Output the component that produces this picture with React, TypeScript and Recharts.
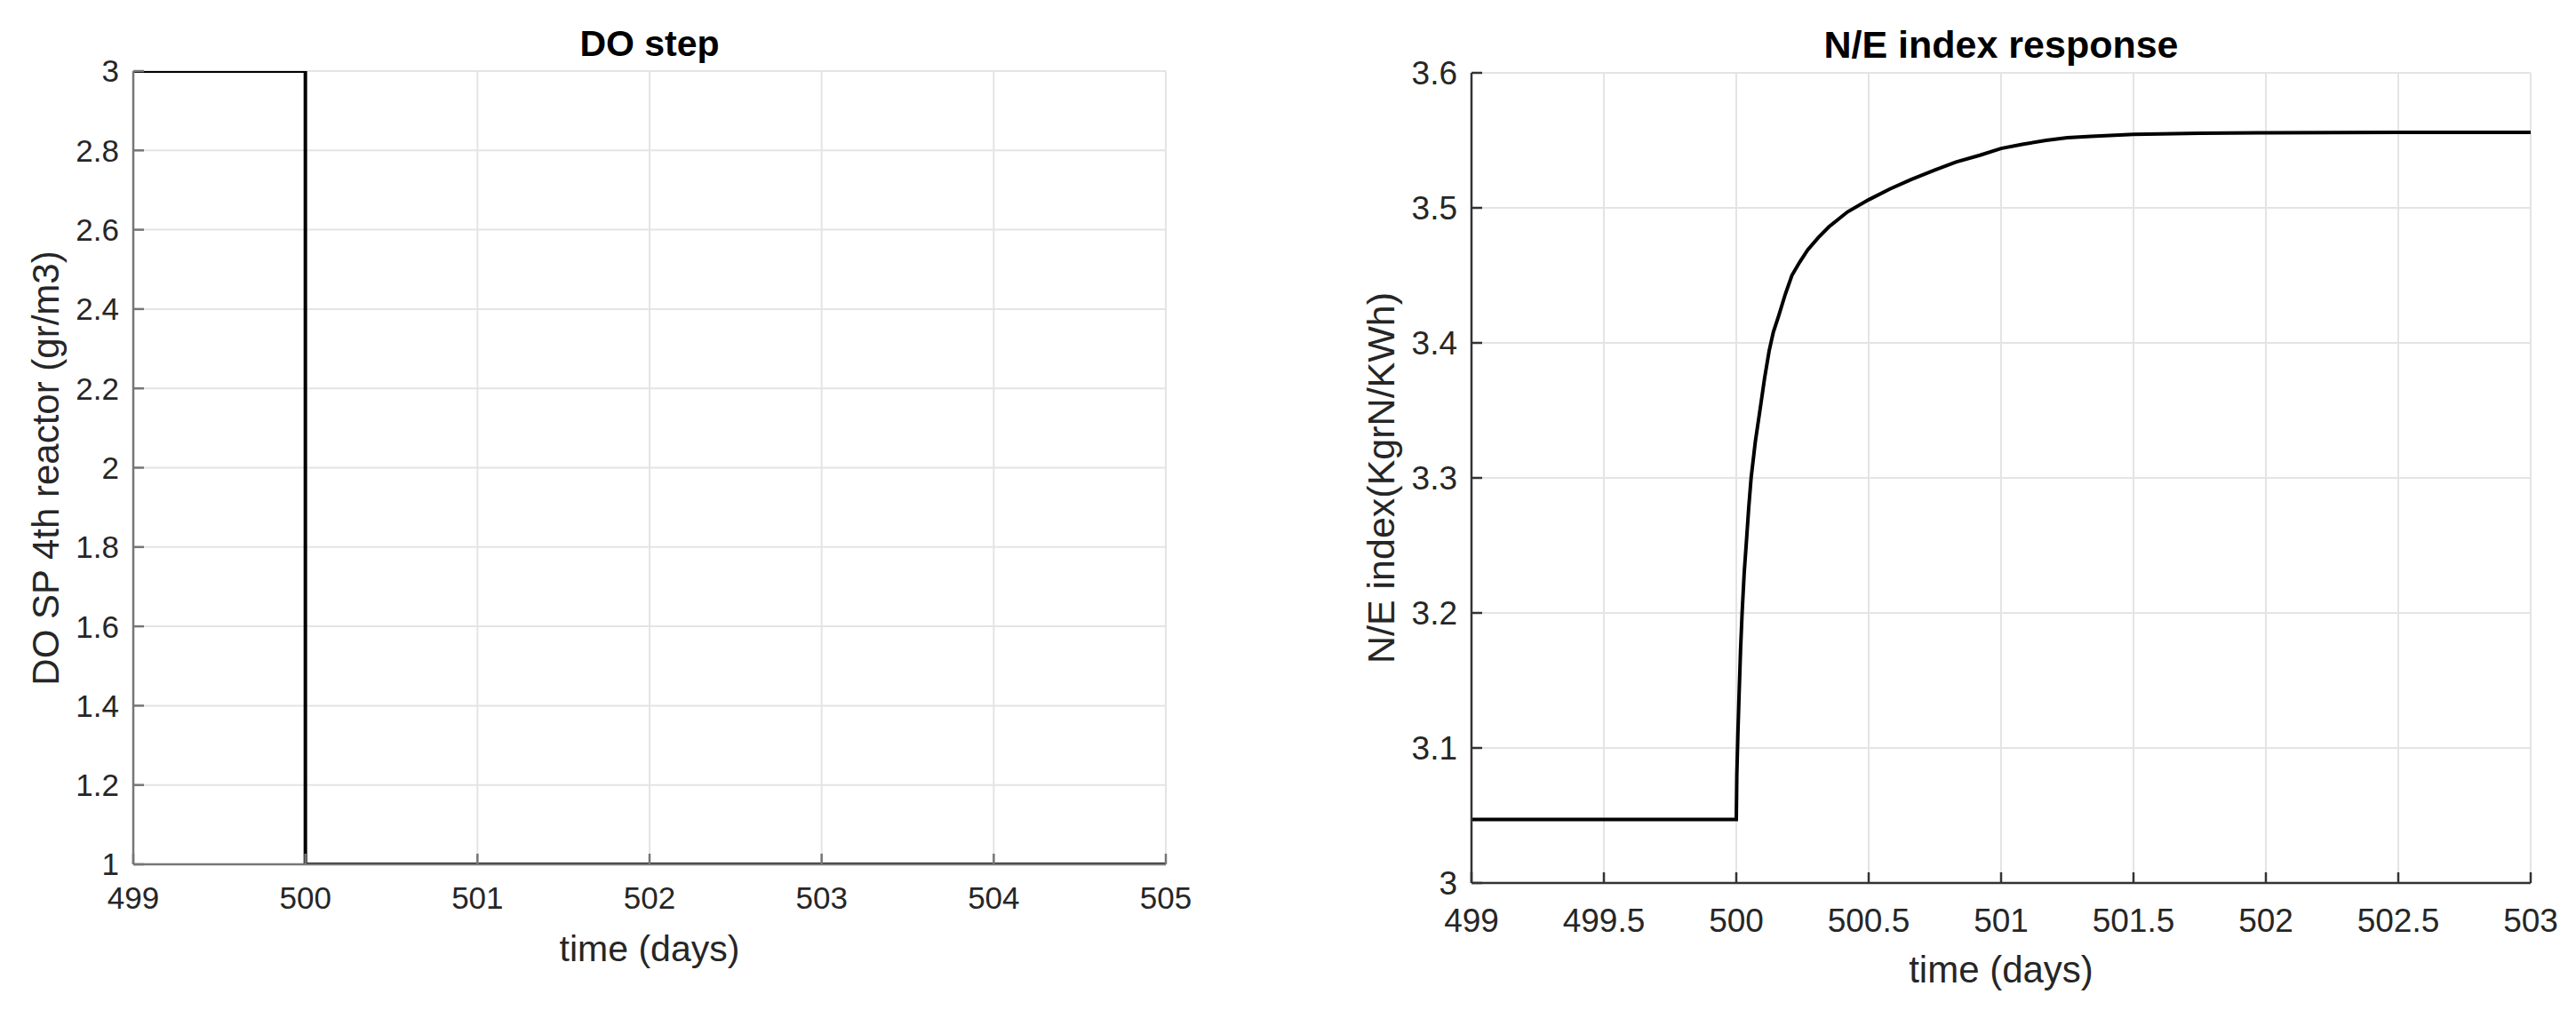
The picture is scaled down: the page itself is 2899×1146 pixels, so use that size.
import React from "react";
import { LineChart, Line, XAxis, YAxis, CartesianGrid } from "recharts";

// DO set point step (left panel)
const doTime = [499, 500, 500, 505];
const doSetPoint = [3, 3, 1, 1];
const doXTicks = [499, 500, 501, 502, 503, 504, 505];
const doYTicks = [1, 1.2, 1.4, 1.6, 1.8, 2, 2.2, 2.4, 2.6, 2.8, 3];

// N/E index response (right panel)
const neTime = [
  499, 500, 500.002, 500.006, 500.011, 500.016, 500.022, 500.03, 500.039, 500.047,
  500.056, 500.072, 500.09, 500.107, 500.124, 500.14, 500.16, 500.185, 500.21, 500.24,
  500.27, 500.31, 500.35, 500.42, 500.5, 500.58, 500.66, 500.75, 500.83, 500.92,
  501, 501.08, 501.17, 501.25, 501.34, 501.5, 501.75, 502, 502.5, 503,
];
const neIndex = [
  3.047, 3.047, 3.08, 3.11, 3.142, 3.172, 3.2, 3.23, 3.255, 3.278,
  3.3, 3.327, 3.351, 3.374, 3.394, 3.408, 3.42, 3.436, 3.45, 3.46,
  3.469, 3.478, 3.486, 3.497, 3.506, 3.514, 3.521, 3.528, 3.534, 3.539,
  3.544, 3.547, 3.55, 3.552, 3.553, 3.5545, 3.5552, 3.5556, 3.556, 3.556,
];
const neXTicks = [499, 499.5, 500, 500.5, 501, 501.5, 502, 502.5, 503];
const neYTicks = [3, 3.1, 3.2, 3.3, 3.4, 3.5, 3.6];

const doData = doTime.map((t, i) => ({ t, v: doSetPoint[i] }));
const neData = neTime.map((t, i) => ({ t, v: neIndex[i] }));

const FONT = "'Liberation Sans', Arial, Helvetica, sans-serif";
const TEXT = "#262626";
const GRID = "#e4e4e4";
const BOX_TOP = "#8c8c8c";

type PanelProps = {
  data: { t: number; v: number }[];
  xDomain: [number, number];
  yDomain: [number, number];
  xTicks: number[];
  yTicks: number[];
  width: number;
  height: number;
  margin: { top: number; right: number; bottom: number; left: number };
  axisColor: string;
  fontSize: number;
  xTickMargin: number;
};

function Panel(p: PanelProps) {
  const tickStyle = { fontSize: p.fontSize, fill: TEXT, fontFamily: FONT };
  return (
    <LineChart width={p.width} height={p.height} data={p.data} margin={p.margin}>
      <CartesianGrid stroke={GRID} strokeWidth={2} />
      <XAxis
        dataKey="t"
        type="number"
        domain={p.xDomain}
        ticks={p.xTicks}
        allowDataOverflow
        height={60}
        stroke={p.axisColor}
        strokeWidth={2.5}
        tickSize={-12}
        tickMargin={p.xTickMargin}
        tick={tickStyle}
      />
      <XAxis
        xAxisId="top"
        orientation="top"
        dataKey="t"
        type="number"
        domain={p.xDomain}
        ticks={p.xTicks}
        allowDataOverflow
        height={0}
        stroke={BOX_TOP}
        strokeWidth={3}
        tickSize={-12}
        tick={false}
      />
      <YAxis
        type="number"
        domain={p.yDomain}
        ticks={p.yTicks}
        allowDataOverflow
        width={100}
        stroke={p.axisColor}
        strokeWidth={2.5}
        tickSize={-12}
        tickMargin={28}
        tick={tickStyle}
      />
      <YAxis
        yAxisId="right"
        orientation="right"
        type="number"
        domain={p.yDomain}
        ticks={p.yTicks}
        allowDataOverflow
        width={0}
        stroke={p.axisColor}
        strokeWidth={2.5}
        tickSize={-12}
        tick={false}
      />
      <Line
        dataKey="v"
        type="linear"
        stroke="#000"
        strokeWidth={4}
        dot={false}
        activeDot={false}
        isAnimationActive={false}
      />
    </LineChart>
  );
}

const textBase: React.CSSProperties = {
  position: "absolute",
  fontFamily: FONT,
  color: TEXT,
  whiteSpace: "nowrap",
  lineHeight: 1,
  transform: "translate(-50%, -50%)",
};

const rotated = "translate(-50%, -50%) rotate(-90deg)";

export default function App() {
  return (
    <div
      style={{
        position: "absolute",
        left: 0,
        top: 0,
        width: 2899,
        height: 1146,
        background: "#fff",
        overflow: "hidden",
      }}
    >
      <div style={{ position: "absolute", left: 0, top: 0 }}>
        <Panel
          data={doData}
          xDomain={[499, 505]}
          yDomain={[1, 3]}
          xTicks={doXTicks}
          yTicks={doYTicks}
          width={1400}
          height={1146}
          margin={{ top: 80, right: 88, bottom: 113, left: 50 }}
          axisColor="#767676"
          fontSize={35}
          xTickMargin={37}
        />
      </div>
      <div style={{ position: "absolute", left: 1450, top: 0 }}>
        <Panel
          data={neData}
          xDomain={[499, 503]}
          yDomain={[3, 3.6]}
          xTicks={neXTicks}
          yTicks={neYTicks}
          width={1449}
          height={1146}
          margin={{ top: 82, right: 51, bottom: 92, left: 106 }}
          axisColor="#333333"
          fontSize={37}
          xTickMargin={41}
        />
      </div>

      <div style={{ ...textBase, left: 731, top: 49, fontSize: 41, fontWeight: 700, color: "#000" }}>
        DO step
      </div>
      <div style={{ ...textBase, left: 731, top: 1068, fontSize: 41 }}>time (days)</div>
      <div style={{ ...textBase, left: 52, top: 527, fontSize: 42, transform: rotated }}>
        DO SP 4th reactor (gr/m3)
      </div>

      <div style={{ ...textBase, left: 2252, top: 50, fontSize: 43, fontWeight: 700, color: "#000" }}>
        N/E index response
      </div>
      <div style={{ ...textBase, left: 2252, top: 1092, fontSize: 42 }}>time (days)</div>
      <div style={{ ...textBase, left: 1554, top: 538, fontSize: 43, transform: rotated }}>
        N/E index(KgrN/KWh)
      </div>
    </div>
  );
}
